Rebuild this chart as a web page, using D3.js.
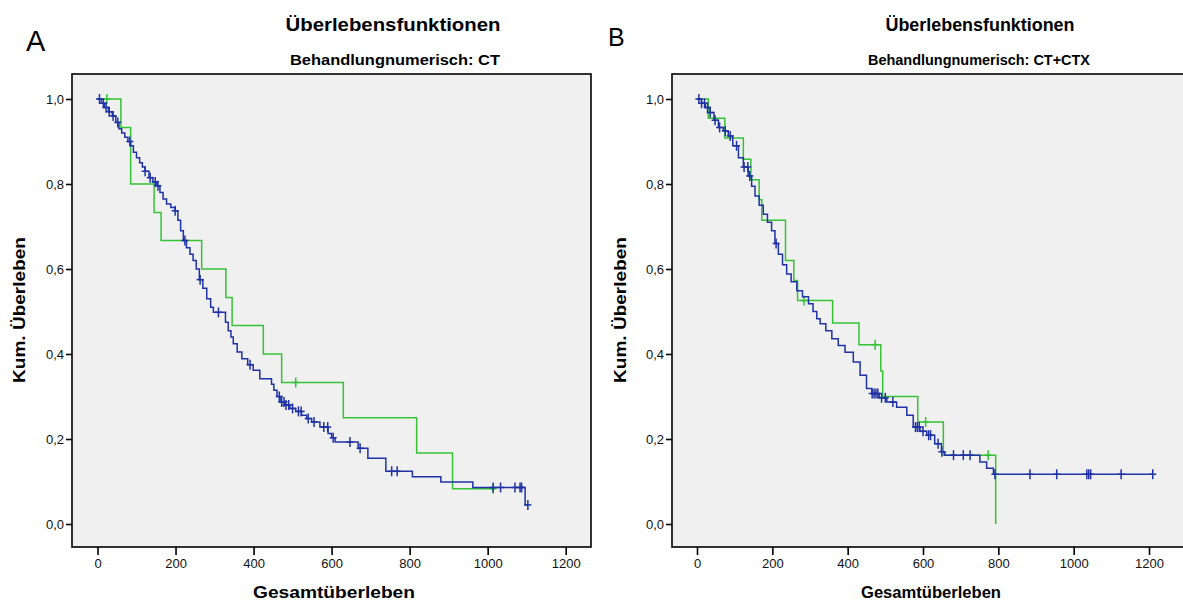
<!DOCTYPE html>
<html><head><meta charset="utf-8">
<script src="https://cdn.jsdelivr.net/npm/d3@7"></script>
<style>body{margin:0;background:#fff}svg{display:block}</style>
</head><body>
<svg id="c" width="1183" height="601"></svg>
<script>
// ---------- DATA ----------
const xTicks = [0, 200, 400, 600, 800, 1000, 1200];
const yTicks = [0, 0.2, 0.4, 0.6, 0.8, 1.0];
const yTickLabels = ["0,0", "0,2", "0,4", "0,6", "0,8", "1,0"];
const titleText = "Überlebensfunktionen";
const subtitlesAB = ["Behandlungnumerisch: CT", "Behandlungnumerisch: CT+CTX"];
const panelLetters = ["A", "B"];
const xTitle = "Gesamtüberleben";
const yTitle = "Kum. Überleben";

// Panel A - blue
const blueA_t = [0,10,18,28,38,47,55,62,70,78,85,92,100,108,115,122,132,142,152,160,168,177,188,199,206,213,220,228,237,245,253,261,270,280,290,297,328,335,342,348,358,370,385,399,416,446,452,460,468,480,493,508,523,536,549,570,591,600,609,668,693,739,807,880,962,1096];
const blueA_s = [1,0.99,0.98,0.97,0.96,0.945,0.93,0.92,0.91,0.90,0.89,0.875,0.862,0.85,0.84,0.83,0.815,0.805,0.796,0.78,0.765,0.753,0.745,0.737,0.715,0.69,0.667,0.65,0.635,0.62,0.60,0.575,0.555,0.53,0.51,0.498,0.475,0.455,0.44,0.424,0.405,0.389,0.375,0.362,0.342,0.329,0.315,0.30,0.287,0.28,0.272,0.265,0.256,0.248,0.24,0.228,0.213,0.203,0.193,0.178,0.155,0.124,0.111,0.099,0.086,0.045];
const blueA_cens = [5,15,22,30,40,52,83,122,135,148,155,199,224,263,310,391,466,472,478,483,490,500,515,522,540,555,580,590,604,647,673,754,768,1014,1033,1070,1083,1087,1103];
// Panel A - green
const greenA_t = [0,60,85,145,163,267,329,345,425,472,630,818,910];
const greenA_s = [1,0.933,0.80,0.733,0.667,0.60,0.533,0.467,0.40,0.333,0.25,0.167,0.083];
const greenA_cens = [24,508,1014];

// Panel B - blue
const blueB_t = [0,12,22,35,45,57,70,83,95,110,123,136,145,154,165,176,187,198,207,216,227,238,250,265,280,296,308,318,327,342,358,375,393,415,433,450,464,484,504,530,557,574,592,610,631,649,658,751,769,787];
const blueB_s = [1,0.99,0.98,0.968,0.95,0.933,0.925,0.913,0.89,0.862,0.84,0.819,0.795,0.772,0.75,0.729,0.71,0.69,0.66,0.635,0.61,0.588,0.57,0.549,0.535,0.518,0.50,0.483,0.471,0.455,0.436,0.42,0.404,0.381,0.35,0.319,0.307,0.297,0.287,0.275,0.256,0.228,0.218,0.209,0.189,0.17,0.162,0.146,0.131,0.117];
const blueB_cens = [5,12,20,28,35,48,60,75,88,105,125,135,140,210,465,470,475,480,490,500,520,580,585,590,600,615,620,640,650,681,707,725,791,884,955,1035,1040,1045,1126,1210];
// Panel B - green
const greenB_t = [0,30,74,123,143,165,172,235,257,267,360,430,488,493,586,654,793];
const greenB_s = [1,0.955,0.908,0.858,0.81,0.763,0.715,0.62,0.573,0.526,0.473,0.422,0.36,0.30,0.24,0.162,0.0];
const greenB_cens = [284,473,607,773];

// ---------- LAYOUT ----------
const svg = d3.select("#c");
const FONT = "'Liberation Sans', Arial, sans-serif";
const BLUE = "#1f32a6", GREEN = "#34c334";

const panels = [
  { box: [72, 74, 591, 547], xr: [97.5, 565.7], yr: [524, 99],
    title: [393, 31, 215], sub: [395, 65, 210], letter: [26, 51, 29], ylab: [25, 310, 146], xlab: [334, 598, 162],
    series: [
      { t: greenA_t, s: greenA_s, c: greenA_cens, color: GREEN, end: 1014 },
      { t: blueA_t, s: blueA_s, c: blueA_cens, color: BLUE, end: 1103 }
    ] },
  { box: [672, 74, 1186, 547], xr: [697, 1149], yr: [524, 99],
    title: [980, 31, 189], sub: [979, 65, 222], letter: [608, 46, 25], ylab: [626, 310, 146], xlab: [931, 598, 140],
    series: [
      { t: greenB_t, s: greenB_s, c: greenB_cens, color: GREEN, end: 793 },
      { t: blueB_t, s: blueB_s, c: blueB_cens, color: BLUE, end: 1210 }
    ] }
];

function sAt(ts, ss, t) { let v = ss[0]; for (let i = 0; i < ts.length; i++) if (ts[i] <= t) v = ss[i]; return v; }

function boldText(g, x, y, size, len, txt) {
  return g.append("text").attr("x", x).attr("y", y).attr("text-anchor", "middle")
    .attr("textLength", len).attr("lengthAdjust", "spacingAndGlyphs")
    .style("font-family", FONT).style("font-weight", "bold").style("font-size", size + "px").text(txt);
}

panels.forEach((p, pi) => {
  const g = svg.append("g");
  const [x0, y0, x1, y1] = p.box;
  const x = d3.scaleLinear().domain([0, 1200]).range(p.xr);
  const y = d3.scaleLinear().domain([0, 1]).range(p.yr);

  g.append("rect").attr("x", x0).attr("y", y0).attr("width", x1 - x0).attr("height", y1 - y0)
    .attr("fill", "#f0f0f0").attr("stroke", "#000").attr("stroke-width", 1.6);

  // Titles
  boldText(g, p.title[0], p.title[1], 18, p.title[2], titleText);
  boldText(g, p.sub[0], p.sub[1], 14, p.sub[2], subtitlesAB[pi]);
  g.append("text").attr("x", p.letter[0]).attr("y", p.letter[1])
    .style("font-family", FONT).style("font-size", p.letter[2] + "px").text(panelLetters[pi]);

  // X axis
  const xa = g.append("g").attr("transform", `translate(0,${y1})`)
    .call(d3.axisBottom(x).tickValues(xTicks).tickSize(8).tickPadding(4).tickFormat(d3.format("d")));
  xa.select(".domain").remove();
  xa.selectAll("line").attr("stroke", "#000").attr("stroke-width", 1.6);
  xa.selectAll("text").style("font-family", FONT).style("font-size", "13px").attr("fill", "#111");

  // Y axis
  const ya = g.append("g").attr("transform", `translate(${x0},0)`)
    .call(d3.axisLeft(y).tickValues(yTicks).tickSize(6).tickPadding(2).tickFormat((d, i) => yTickLabels[i]));
  ya.select(".domain").remove();
  ya.selectAll("line").attr("stroke", "#000").attr("stroke-width", 1.6);
  ya.selectAll("text").style("font-family", FONT).style("font-size", "13px").attr("fill", "#111");

  // Axis titles
  boldText(g, p.xlab[0], p.xlab[1], 17, p.xlab[2], xTitle);
  boldText(g, 0, 0, 17, p.ylab[2], yTitle).attr("transform", `translate(${p.ylab[0]},${p.ylab[1]}) rotate(-90)`);

  // Curves
  const line = d3.line().x(d => x(d[0])).y(d => y(d[1])).curve(d3.curveStepAfter);
  p.series.forEach(se => {
    const pts = se.t.map((t, i) => [t, se.s[i]]);
    if (se.end > se.t[se.t.length - 1]) pts.push([se.end, se.s[se.s.length - 1]]);
    g.append("path").datum(pts).attr("d", line).attr("fill", "none")
      .attr("stroke", se.color).attr("stroke-width", 1.5);
    const cg = g.append("g").attr("stroke", se.color).attr("stroke-width", 1.5);
    se.c.forEach(ct => {
      const cx = x(ct), cy = y(sAt(se.t, se.s, ct));
      cg.append("line").attr("x1", cx).attr("x2", cx).attr("y1", cy - 5).attr("y2", cy + 5);
      cg.append("line").attr("x1", cx - 3.5).attr("x2", cx + 3.5).attr("y1", cy).attr("y2", cy);
    });
  });
});
</script>
</body></html>
